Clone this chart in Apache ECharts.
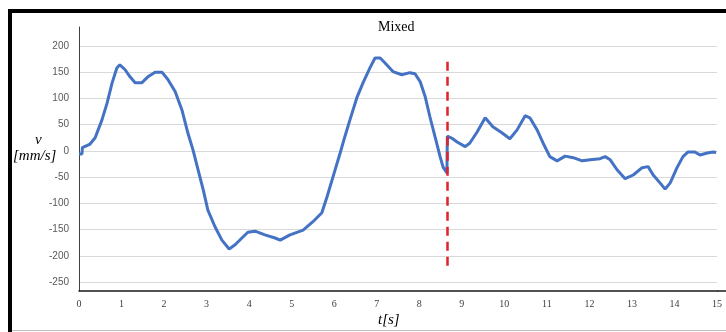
<!DOCTYPE html>
<html>
<head>
<meta charset="utf-8">
<script src="https://cdn.jsdelivr.net/npm/echarts@6/dist/echarts.min.js"></script>
<style>
  html, body { margin: 0; padding: 0; background: #fff; }
  #chart-container { width: 726px; height: 332px; }
</style>
</head>
<body>
<div id="chart-container"></div>
<script>
// velocity trace (t in s, v in mm/s)
var tData = [0, 0.07, 0.08, 0.12, 0.26, 0.38, 0.45, 0.54, 0.66, 0.78, 0.89, 0.96, 1.08, 1.20, 1.32,
    1.48, 1.62, 1.79, 1.95, 2.09, 2.26, 2.42, 2.56, 2.68, 2.80, 2.92, 3.03, 3.20, 3.36, 3.53,
    3.67, 3.83, 3.97, 4.14, 4.37, 4.61, 4.73, 4.96, 5.27, 5.50, 5.71, 5.83, 5.97, 6.14, 6.25,
    6.37, 6.54, 6.68, 6.84, 6.96, 7.08, 7.19, 7.38, 7.59, 7.78, 7.90, 8.02, 8.14, 8.25, 8.37,
    8.49, 8.56, 8.65, 8.66, 8.77, 8.89, 9.08, 9.19, 9.36, 9.55, 9.73, 9.95, 10.13, 10.30, 10.49,
    10.60, 10.77, 10.91, 11.07, 11.24, 11.43, 11.62, 11.83, 12.02, 12.25, 12.37, 12.49, 12.65, 12.84,
    13.03, 13.24, 13.38, 13.50, 13.66, 13.78, 13.90, 14.06, 14.20, 14.32, 14.48, 14.60, 14.77, 14.91, 14.98];
var vData = [-6, -6, 6, 8, 13, 25, 40, 59, 91, 130, 158, 164, 155, 141, 130,
    130, 141, 150, 150, 136, 113, 78, 34, 2, -36, -74, -113, -145, -170, -187,
    -179, -166, -155, -153, -160, -166, -170, -160, -151, -135, -118, -88, -50, -4, 27,
    59, 103, 130, 158, 177, 177, 168, 151, 145, 149, 147, 132, 103, 65, 27,
    -11, -31, -42, 28, 24, 17, 8, 15, 36, 63, 46, 34, 23, 40, 67,
    63, 40, 15, -11, -19, -10, -13, -19, -17, -15, -11, -17, -36, -53,
    -46, -32, -30, -46, -61, -73, -61, -32, -11, -2, -2, -8, -4, -2, -3];

var yTicks = [-250, -200, -150, -100, -50, 0, 50, 100, 150, 200];
var switchT = 8.65;
var switchRange = [170, -223];

var chartDom = document.getElementById('chart-container');
var myChart = echarts.init(chartDom, null, {renderer: 'canvas'});
var option;

var points = tData.map(function (t, i) { return [t, vData[i]]; });

option = {
    animation: false,
    backgroundColor: '#ffffff',
    title: {
        text: 'Mixed',
        left: 373,
        top: 15,
        textStyle: {
            fontFamily: 'Liberation Serif',
            fontSize: 14,
            fontWeight: 'normal',
            color: '#000'
        }
    },
    grid: {
        left: 79,
        right: 9,
        top: 27,
        bottom: 41
    },
    xAxis: {
        type: 'value',
        min: 0,
        max: 15,
        interval: 1,
        axisLine: { onZero: false, lineStyle: { color: '#1a1a1a', width: 1.5 } },
        axisTick: { show: false },
        splitLine: { show: false },
        axisLabel: {
            margin: 8,
            fontFamily: 'Liberation Serif',
            fontSize: 10,
            color: '#404040'
        }
    },
    yAxis: {
        type: 'value',
        min: -267,
        max: 236,
        axisLine: { show: true, lineStyle: { color: '#404040', width: 1 } },
        axisTick: { show: false, customValues: yTicks },
        axisLabel: {
            customValues: yTicks,
            margin: 10,
            fontFamily: 'Liberation Sans',
            fontSize: 10,
            color: '#595959'
        },
        splitLine: { show: true, lineStyle: { color: '#d9d9d9', width: 1 } }
    },
    graphic: [
        { type: 'rect', shape: { x: 8, y: 9, width: 718, height: 4 }, style: { fill: '#000' } },
        { type: 'rect', shape: { x: 8, y: 9, width: 4, height: 323 }, style: { fill: '#000' } },
        { type: 'line', shape: { x1: 12, y1: 330.5, x2: 726, y2: 330.5 }, style: { stroke: '#bdbdbd', lineWidth: 1 } },
        { type: 'line', shape: { x1: 717, y1: 291, x2: 726, y2: 291 }, style: { stroke: '#1a1a1a', lineWidth: 1.5 } },
        { type: 'text', left: 35, top: 133, style: { text: 'v', font: 'italic 15px "Liberation Serif"', fill: '#000' } },
        { type: 'text', left: 13, top: 149, style: { text: '[mm/s]', font: 'italic 15px "Liberation Serif"', fill: '#000' } },
        { type: 'text', left: 378, top: 313, style: { text: 't[s]', font: 'italic 15px "Liberation Serif"', fill: '#000' } }
    ],
    series: [
        {
            type: 'line',
            data: points,
            showSymbol: false,
            symbol: 'none',
            lineStyle: { color: '#4472c4', width: 3 },
            markLine: {
                silent: true,
                symbol: 'none',
                label: { show: false },
                lineStyle: { color: '#e0222a', width: 2.5, type: [9, 6] },
                data: [[
                    { coord: [switchT, switchRange[0]] },
                    { coord: [switchT, switchRange[1]] }
                ]]
            }
        }
    ]
};

option && myChart.setOption(option);
</script>
</body>
</html>
